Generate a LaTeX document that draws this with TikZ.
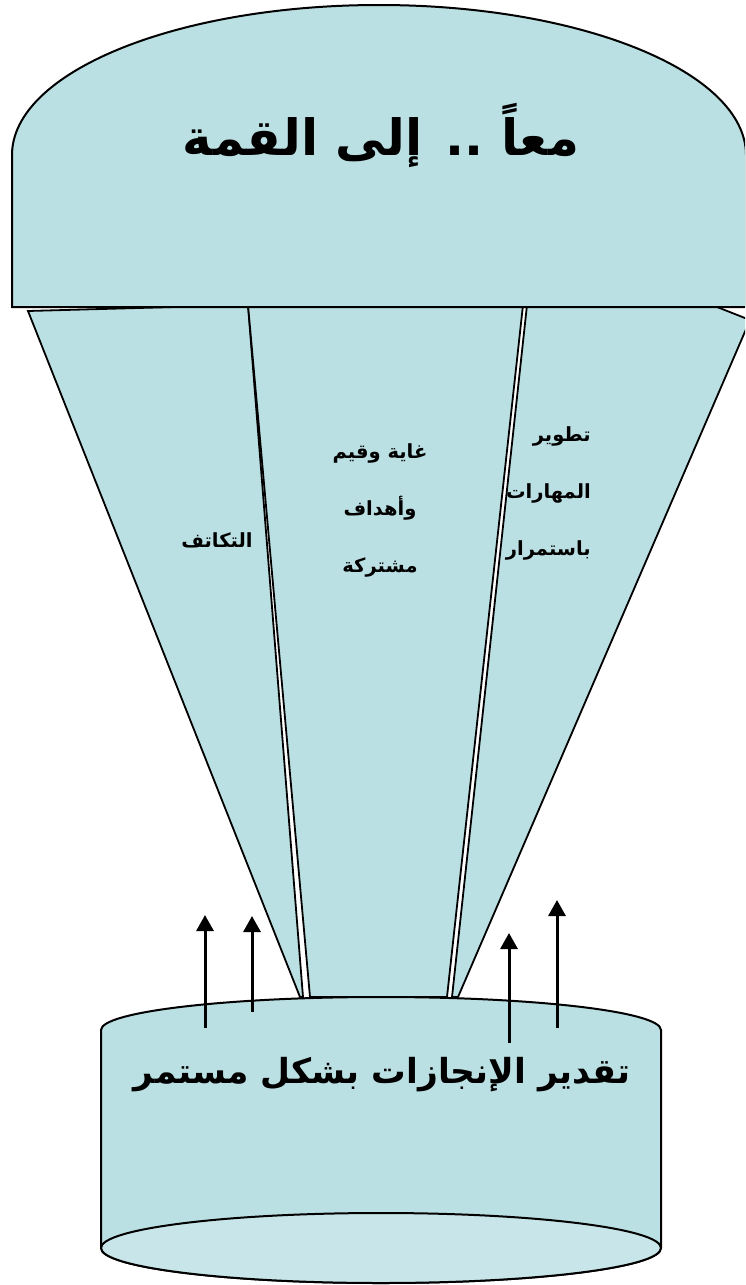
\documentclass[tikz,border=0pt]{standalone}
\usepackage{fontspec}
\newfontfamily\arabicfont[Script=Arabic]{DejaVu Sans}
\TeXXeTstate=1
\usetikzlibrary{arrows.meta}
\definecolor{fillblue}{RGB}{187,224,227}
\definecolor{paleblue}{RGB}{200,230,234}
\tikzset{
  piece/.style={draw=black, fill=fillblue, line width=1.8pt, line join=miter},
  solid3d/.style={draw=black, fill=fillblue, line width=2pt},
  uparrow/.style={draw=black, line width=3pt, -{Triangle[width=17pt,length=16pt]}},
  smalltxt/.style={font=\arabicfont\bfseries\fontsize{19.5}{57}\selectfont, inner sep=0pt},
}
\begin{document}
\begin{tikzpicture}[x=1pt,y=-1pt]
\useasboundingbox (0,0) rectangle (745,1285);
\clip (0,0) rectangle (745,1285);
% funnel pieces
\draw[piece] (28,311) -- (248,305) -- (303,997) -- (300,997) -- cycle;
\draw[piece] (248,305) -- (523,305) -- (447,997) -- (310,997) -- cycle;
\draw[piece] (527,305) -- (712,305) -- (750,320) -- (458,997) -- (452,997) -- cycle;
% top shape
\draw[solid3d] (12,307) -- (12,155) arc[start angle=180, end angle=360, x radius=367, y radius=150] -- (746,307) -- cycle;
\node[font=\arabicfont\bfseries\fontsize{50}{54}\selectfont, inner sep=0pt] (title) at (381,135) {\beginR معاً .. إلى القمة\endR};
% cylinder
\draw[solid3d] (101,1030) arc[start angle=180, end angle=360, x radius=280, y radius=33] -- (661,1248) arc[start angle=0, end angle=180, x radius=280, y radius=35] -- cycle;
\draw[solid3d, fill=paleblue] (381,1248) ellipse [x radius=280, y radius=35];
\node[font=\arabicfont\bfseries\fontsize{34.5}{38}\selectfont, inner sep=0pt] (base) at (382,1075) {\beginR تقدير الإنجازات بشكل مستمر\endR};
% labels
\node[smalltxt] (l1) at (217,540) {\beginR التكاتف\endR};
\node[smalltxt, align=center] (l2) at (380,510) {\beginR غاية وقيم\endR\\\beginR وأهداف\endR\\\beginR مشتركة\endR};
\node[smalltxt, align=right, anchor=east] (l3) at (591,493) {\beginR تطوير\endR\\\beginR المهارات\endR\\\beginR باستمرار\endR};
% arrows
\coordinate (a1s) at (205,1028); \coordinate (a1e) at (205,915);
\coordinate (a2s) at (252,1012); \coordinate (a2e) at (252,916);
\coordinate (a3s) at (509,1043); \coordinate (a3e) at (509,933);
\coordinate (a4s) at (557,1028); \coordinate (a4e) at (557,900);
\draw[uparrow] (a1s) -- (a1e);
\draw[uparrow] (a2s) -- (a2e);
\draw[uparrow] (a3s) -- (a3e);
\draw[uparrow] (a4s) -- (a4e);
\end{tikzpicture}
\end{document}
